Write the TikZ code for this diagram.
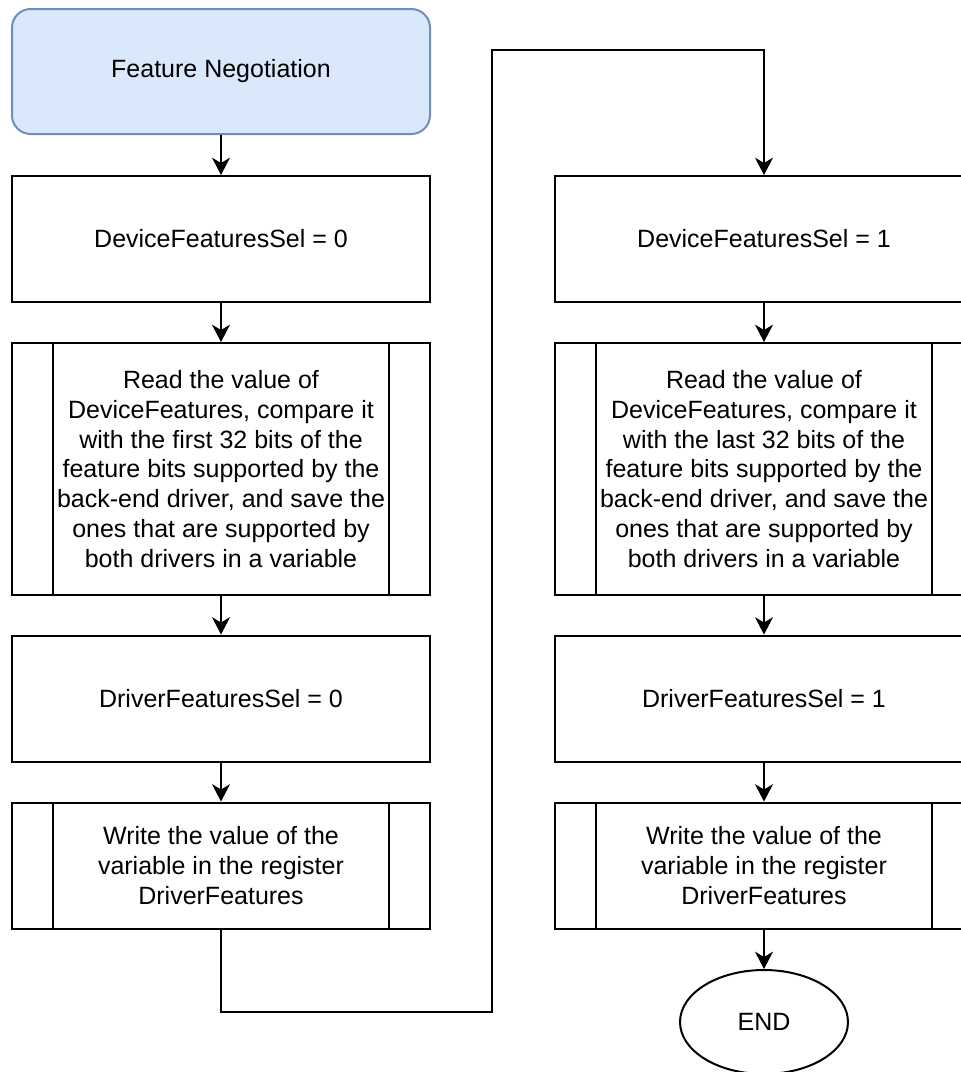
\documentclass[tikz,border=0pt]{standalone}
\usepackage{fontspec}
\setmainfont{Liberation Sans}
\usetikzlibrary{arrows.meta,calc,shapes.geometric}
\definecolor{startfill}{HTML}{DAE8FC}
\definecolor{startdraw}{HTML}{6C8EBF}
\begin{document}
\begin{tikzpicture}[x=0.75pt,y=-0.75pt,
  every node/.style={font=\fontsize{18.75pt}{22.4pt}\selectfont, align=center, inner sep=0pt},
  startbox/.style={draw=startdraw, fill=startfill, line width=1.5pt, rounded corners=14pt,
    minimum width=313.5pt, minimum height=93.75pt},
  stepbox/.style={draw, line width=1.5pt, minimum width=313.5pt, minimum height=94.5pt},
  procbox/.style={draw, line width=1.5pt, minimum width=313.5pt, minimum height=189pt},
  endbox/.style={draw, ellipse, line width=1.5pt, minimum width=126pt, minimum height=78pt},
  flow/.style={line width=1.5pt, -{Stealth[length=13pt, width=13.5pt, inset=4pt]}},
  link/.style={line width=1.5pt}]
\useasboundingbox (0,0) rectangle (961,1072);
\clip (0,0) rectangle (961,1072);

% left column
\node[startbox] (start) at (221,71.5) {Feature Negotiation};
\node[stepbox] (dsel0) at (221,239) {DeviceFeaturesSel = 0};
\node[procbox] (read0) at (221,469) {Read the value of\\DeviceFeatures, compare it\\with the first 32 bits of the\\feature bits supported by the\\back-end driver, and save the\\ones that are supported by\\both drivers in a variable};
\node[stepbox] (rsel0) at (221,698.5) {DriverFeaturesSel = 0};
\node[stepbox] (write0) at (221,865.5) {Write the value of the\\variable in the register\\DriverFeatures};

% right column
\node[stepbox] (dsel1) at (764,239) {DeviceFeaturesSel = 1};
\node[procbox] (read1) at (764,469) {Read the value of\\DeviceFeatures, compare it\\with the last 32 bits of the\\feature bits supported by the\\back-end driver, and save the\\ones that are supported by\\both drivers in a variable};
\node[stepbox] (rsel1) at (764,698.5) {DriverFeaturesSel = 1};
\node[stepbox] (write1) at (764,865.5) {Write the value of the\\variable in the register\\DriverFeatures};
\node[endbox] (end) at (764,1022) {END};

% inner bars of the predefined-process boxes
\foreach \n in {read0,read1,write0,write1}{
  \draw[link] ($(\n.north west)+(42,0)$) -- ($(\n.south west)+(42,0)$);
  \draw[link] ($(\n.north east)+(-42,0)$) -- ($(\n.south east)+(-42,0)$);
}

% connectors
\draw[flow] (start) -- (dsel0);
\draw[flow] (dsel0) -- (read0);
\draw[flow] (read0) -- (rsel0);
\draw[flow] (rsel0) -- (write0);
\coordinate (lowturn) at (492,1012);
\coordinate (highturn) at (492,50);
\draw[flow] (write0.south) |- (lowturn) -- (highturn) -| (dsel1.north);
\draw[flow] (dsel1) -- (read1);
\draw[flow] (read1) -- (rsel1);
\draw[flow] (rsel1) -- (write1);
\draw[flow] (write1) -- (end);
\end{tikzpicture}
\end{document}
